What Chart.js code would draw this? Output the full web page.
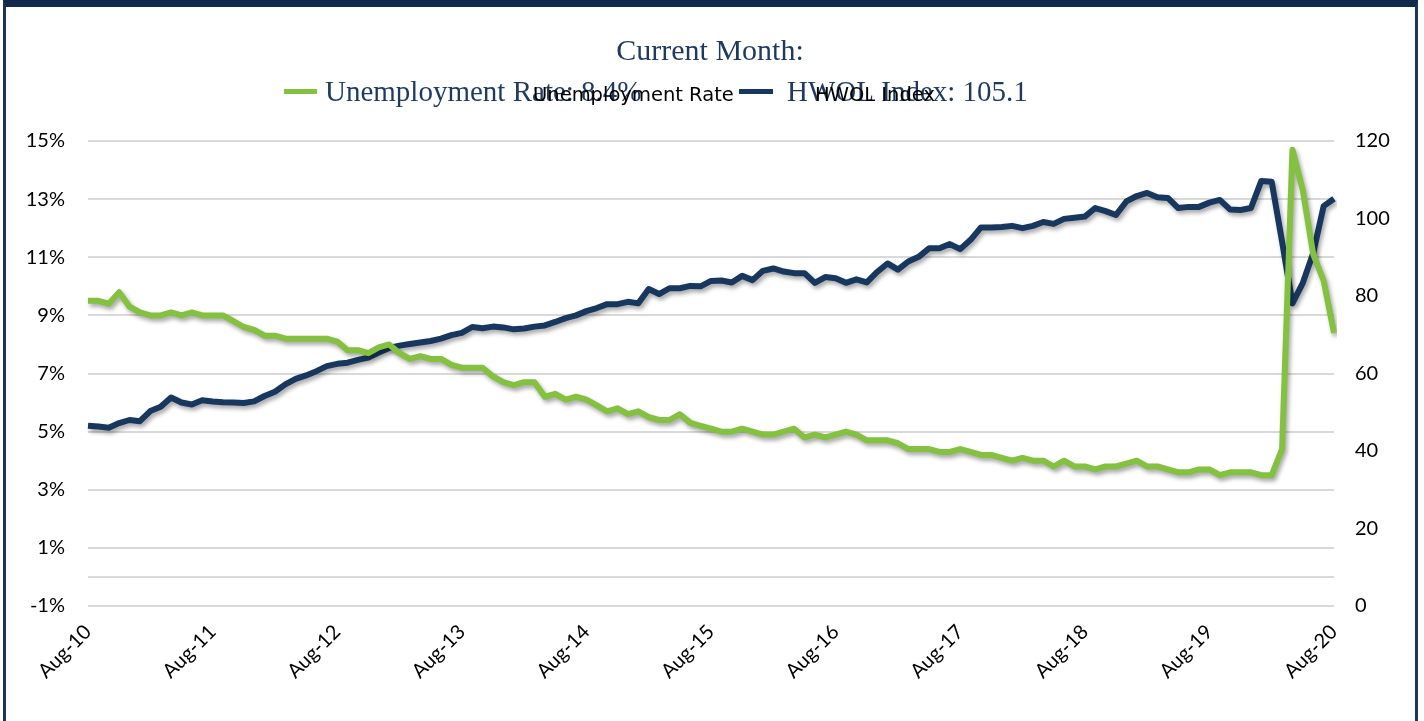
<!DOCTYPE html>
<html>
<head>
<meta charset="utf-8">
<script src="https://cdn.jsdelivr.net/npm/chart.js@4.4.1/dist/chart.umd.min.js"></script>
<style>
  html, body { margin: 0; padding: 0; background: #fff; }
  #wrap { position: relative; width: 1424px; height: 721px; overflow: hidden; }
  #frame { position: absolute; left: 3px; top: 0; width: 1415px; height: 760px; border: 3px solid #1b3658; border-top: 7px solid #0f2a4a; box-sizing: border-box; pointer-events: none; }
  canvas { position: absolute; left: 0; top: 0; }
</style>
</head>
<body>
<div id="wrap">
  <canvas id="myChart" width="1424" height="721"></canvas>
  <div id="frame"></div>
</div>
<script>
// monthly, Aug-10 .. Aug-20
const monthNames = ['Jan','Feb','Mar','Apr','May','Jun','Jul','Aug','Sep','Oct','Nov','Dec']
const months = []
for (let i = 0; i < 121; i++) {
    const m = (7 + i) % 12
    const yr = 10 + Math.floor((7 + i) / 12)
    months.push(monthNames[m] + '-' + yr)
}

const unemploymentRate = [
    9.5, 9.5, 9.4, 9.8, 9.3,
    9.1, 9.0, 9.0, 9.1, 9.0, 9.1, 9.0, 9.0, 9.0, 8.8, 8.6, 8.5,
    8.3, 8.3, 8.2, 8.2, 8.2, 8.2, 8.2, 8.1, 7.8, 7.8, 7.7, 7.9,
    8.0, 7.7, 7.5, 7.6, 7.5, 7.5, 7.3, 7.2, 7.2, 7.2, 6.9, 6.7,
    6.6, 6.7, 6.7, 6.2, 6.3, 6.1, 6.2, 6.1, 5.9, 5.7, 5.8, 5.6,
    5.7, 5.5, 5.4, 5.4, 5.6, 5.3, 5.2, 5.1, 5.0, 5.0, 5.1, 5.0,
    4.9, 4.9, 5.0, 5.1, 4.8, 4.9, 4.8, 4.9, 5.0, 4.9, 4.7, 4.7,
    4.7, 4.6, 4.4, 4.4, 4.4, 4.3, 4.3, 4.4, 4.3, 4.2, 4.2, 4.1,
    4.0, 4.1, 4.0, 4.0, 3.8, 4.0, 3.8, 3.8, 3.7, 3.8, 3.8, 3.9,
    4.0, 3.8, 3.8, 3.7, 3.6, 3.6, 3.7, 3.7, 3.5, 3.6, 3.6, 3.6,
    3.5, 3.5, 4.4, 14.7, 13.3, 11.1, 10.2, 8.4
]

const hwolIndex = [
    46.5, 46.3, 46.0, 47.2, 48.0, 47.7, 50.3, 51.4, 53.8, 52.5, 52.0, 53.1, 52.8, 52.6, 52.5, 52.4, 52.8, 54.2, 55.3, 57.2, 58.6,
    59.5, 60.6, 61.9, 62.5, 62.8, 63.5, 64.1, 65.4, 66.6, 67.2, 67.6, 68.0, 68.4, 69.0, 69.9, 70.5, 72.0, 71.7, 72.1,
    71.9, 71.4, 71.6, 72.1, 72.4, 73.3, 74.3, 75.0, 76.1, 76.9, 77.9, 77.9, 78.5, 78.1, 81.8, 80.5, 82.0, 82.0, 82.6, 82.5,
    83.9, 84.0, 83.5, 85.2, 84.1, 86.5, 87.1, 86.3, 85.9,
    85.9, 83.4, 84.9, 84.6, 83.4, 84.3, 83.5, 86.2, 88.4, 86.8, 88.9, 90.1,
    92.3, 92.3, 93.4, 92.1, 94.5, 97.7, 97.7, 97.8, 98.1, 97.5, 98.1, 99.1, 98.6, 99.9, 100.2, 100.5, 102.7, 101.9, 100.9,
    104.4, 105.8, 106.6, 105.5, 105.3, 102.7, 103.0, 103.0, 104.1, 104.8, 102.3, 102.2, 102.7, 109.7, 109.5, 94.0,
    78.1, 83.4, 91.1, 103.2, 105.1
]

const leftTicks = [-1, 0, 1, 3, 5, 7, 9, 11, 13, 15]
const rightTicks = [0, 20, 40, 60, 80, 100, 120]

const currentRate = '8.4%'
const currentIndex = '105.1'

const green = '#84c141'
const navy = '#17375e'
const textNavy = '#1f3a5f'

// excel-like soft shadow under the lines
const lineShadow = {
    id: 'lineShadow',
    beforeDatasetDraw(chart) {
        const ctx = chart.ctx
        ctx.save()
        ctx.shadowColor = 'rgba(0,0,0,0.35)'
        ctx.shadowBlur = 4
        ctx.shadowOffsetX = 2
        ctx.shadowOffsetY = 3
    },
    afterDatasetDraw(chart) {
        chart.ctx.restore()
    }
}

// header: title + legend text
const header = {
    id: 'header',
    afterDraw(chart) {
        const ctx = chart.ctx
        ctx.save()
        ctx.textBaseline = 'alphabetic'
        ctx.fillStyle = textNavy
        ctx.font = '30px "Liberation Serif"'
        ctx.textAlign = 'center'
        ctx.fillText('Current Month:', 710, 60)

        ctx.textAlign = 'left'
        ctx.fillStyle = green
        ctx.fillRect(284, 89, 33, 5)
        ctx.fillStyle = textNavy
        ctx.font = '29px "Liberation Serif"'
        ctx.fillText('Unemployment Rate: ' + currentRate, 325, 101)

        ctx.fillStyle = navy
        ctx.fillRect(739, 89, 34, 5)
        ctx.fillStyle = textNavy
        ctx.fillText('HWOL Index: ' + currentIndex, 787, 101)

        ctx.fillStyle = '#000'
        ctx.font = '19.5px "DejaVu Sans"'
        ctx.fillText('Unemployment Rate', 533, 101)
        ctx.fillText('HWOL Index', 815, 101)
        ctx.restore()
    }
}

const tickFont = { family: 'Lato', size: 20 }

var ctx = document.getElementById('myChart');
var myChart = new Chart(ctx, {
    type: 'line',
    data: {
        labels: months,
        datasets: [{
            label: 'Unemployment Rate',
            data: unemploymentRate,
            borderColor: green,
            backgroundColor: green,
            borderWidth: 6,
            borderJoinStyle: 'round',
            pointRadius: 0,
            tension: 0,
            yAxisID: 'y'
        }, {
            label: 'HWOL Index',
            data: hwolIndex,
            borderColor: navy,
            backgroundColor: navy,
            borderWidth: 6,
            borderJoinStyle: 'round',
            pointRadius: 0,
            tension: 0,
            yAxisID: 'y1'
        }]
    },
    options: {
        responsive: false,
        animation: false,
        layout: { padding: { top: 141, left: 0, right: 0, bottom: 0 } },
        plugins: {
            legend: { display: false },
            tooltip: { enabled: false }
        },
        scales: {
            x: {
                grid: { display: false },
                border: { display: false },
                ticks: {
                    autoSkip: false,
                    maxRotation: 45,
                    minRotation: 45,
                    color: '#000',
                    font: { family: 'Lato', size: 20 },
                    padding: 6,
                    callback: function (v, i) {
                        return i % 12 === 0 ? months[i] : null
                    }
                },
                afterFit: s => { s.height = 115 }
            },
            y: {
                position: 'left',
                min: -1,
                max: 15,
                afterBuildTicks: a => { a.ticks = leftTicks.map(v => ({ value: v })) },
                ticks: {
                    color: '#000',
                    font: tickFont,
                    padding: 23,
                    callback: v => (v === 0 ? '' : v + '%')
                },
                grid: { color: '#d9d9d9', lineWidth: 2, drawTicks: false },
                border: { display: false },
                afterFit: s => { s.width = 88 }
            },
            y1: {
                position: 'right',
                min: 0,
                max: 120,
                afterBuildTicks: a => { a.ticks = rightTicks.map(v => ({ value: v })) },
                ticks: { color: '#000', font: tickFont, padding: 21 },
                grid: { display: false, drawTicks: false },
                border: { display: false },
                afterFit: s => { s.width = 90 }
            }
        }
    },
    plugins: [lineShadow, header]
});
</script>
</body>
</html>
